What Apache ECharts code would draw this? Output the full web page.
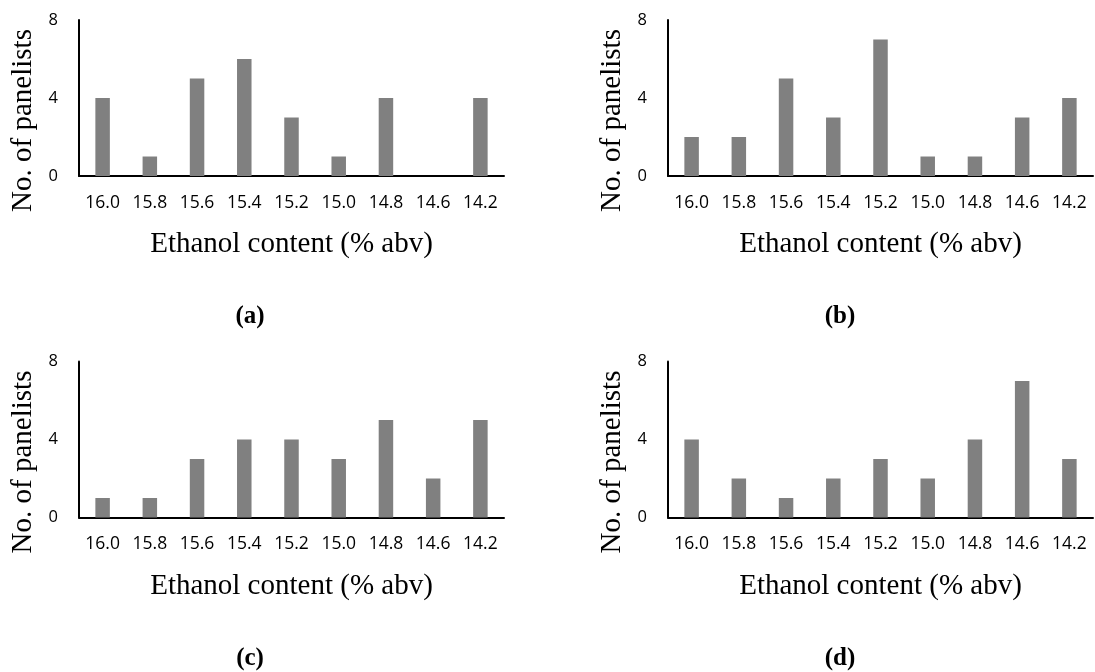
<!DOCTYPE html>
<html>
<head>
<meta charset="utf-8">
<script src="https://cdn.jsdelivr.net/npm/echarts@6/dist/echarts.min.js"></script>
<style>
html,body{margin:0;padding:0;background:#fff;}
#main{width:1095px;height:672px;}
</style>
</head>
<body>
<div id="main"></div>
<script>
const categories = ['16.0','15.8','15.6','15.4','15.2','15.0','14.8','14.6','14.2'];
const valuesA = [4,1,5,6,3,1,4,0,4];
const valuesB = [2,2,5,3,7,1,1,3,4];
const valuesC = [1,1,3,4,4,3,5,2,5];
const valuesD = [4,2,1,2,3,2,4,7,3];
const yTicks = [0,4,8];
const panelLabels = ['a','b','c','d'];
const xTitle = 'Ethanol content (% abv)';
const yTitle = 'No. of panelists';

const panels = [
  {data: valuesA, left: 79,  top: 20},
  {data: valuesB, left: 668, top: 20},
  {data: valuesC, left: 79,  top: 361.5},
  {data: valuesD, left: 668, top: 361.5}
];
const gridW = 425, gridH = 156;

const grids = [], xAxes = [], yAxes = [], series = [], graphics = [];
panels.forEach((p, i) => {
  grids.push({left: p.left, top: p.top, width: gridW, height: gridH, containLabel: false});
  xAxes.push({
    type: 'category', gridIndex: i, data: categories,
    axisLine: {lineStyle: {color: '#000', width: 2}},
    axisTick: {show: false},
    axisLabel: {interval: 0, margin: 18, fontFamily: 'Open Sans', fontSize: 17.5, color: '#000'},
    name: xTitle, nameLocation: 'middle', nameGap: 54,
    nameTextStyle: {fontFamily: 'Liberation Serif', fontSize: 29, color: '#000'}
  });
  yAxes.push({
    type: 'value', gridIndex: i, min: yTicks[0], max: yTicks[yTicks.length-1], interval: 4,
    axisLine: {show: true, lineStyle: {color: '#000', width: 2}},
    axisTick: {show: false},
    splitLine: {show: false},
    axisLabel: {margin: 21, fontFamily: 'Open Sans', fontSize: 16.5, color: '#000'}
  });
  series.push({
    type: 'bar', xAxisIndex: i, yAxisIndex: i, data: p.data, barWidth: 14.5,
    itemStyle: {color: '#808080'},
    silent: true
  });
  const cx = p.left - 56;
  const cy = p.top + 100.5;
  graphics.push({
    type: 'text', x: cx, y: cy, rotation: Math.PI/2,
    style: {text: yTitle, font: '29px "Liberation Serif"', fill: '#000', align: 'center', verticalAlign: 'middle'}
  });
  const lx = (i % 2 === 0) ? 250 : 840;
  const ly = p.top + 297;
  graphics.push({
    type: 'text', x: lx, y: ly,
    style: {text: '(' + panelLabels[i] + ')', font: 'bold 25px "Liberation Serif"', fill: '#000', align: 'center', verticalAlign: 'middle'}
  });
});

const chart = echarts.init(document.getElementById('main'), null, {renderer: 'canvas'});
chart.setOption({
  animation: false,
  backgroundColor: '#fff',
  grid: grids, xAxis: xAxes, yAxis: yAxes, series: series,
  graphic: graphics
});
</script>
</body>
</html>
